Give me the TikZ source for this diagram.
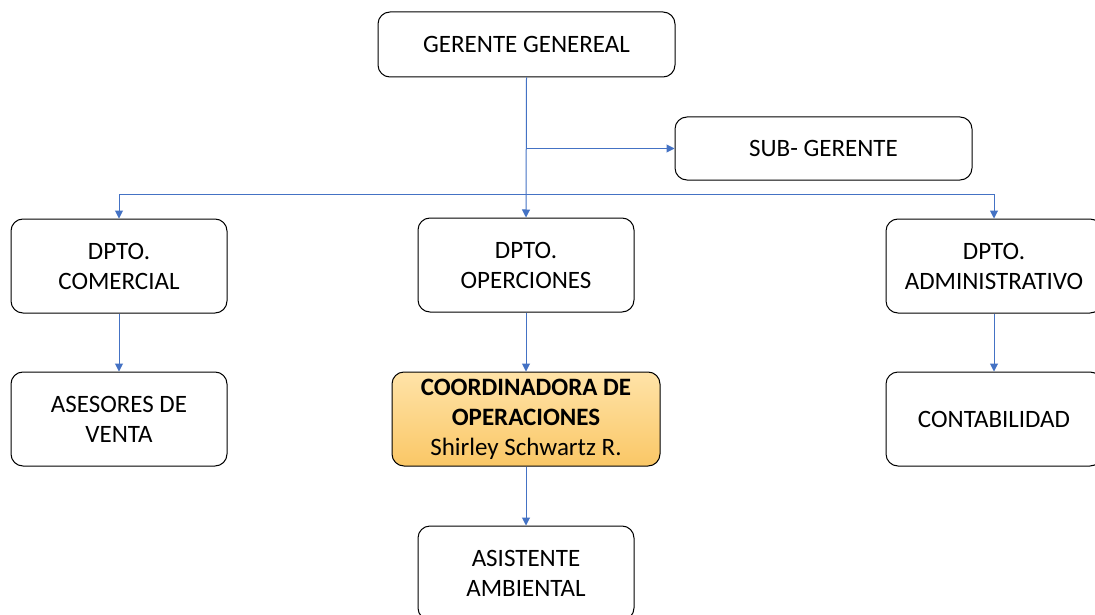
\documentclass[tikz,border=0pt]{standalone}
\usepackage{fontspec}
\setmainfont{Carlito}
\usetikzlibrary{arrows.meta}
\definecolor{lineblue}{HTML}{4472C4}
\definecolor{goldtop}{HTML}{FFE3A8}
\definecolor{goldbot}{HTML}{FAC766}
\tikzset{
  box/.style={draw=black, line width=1pt, rounded corners=12pt, align=center,
    inner sep=0pt, font=\fontsize{25}{30}\selectfont, fill=white},
  link/.style={draw=lineblue, line width=1pt, -{Triangle[length=8pt,width=8pt]}},
  plain/.style={draw=lineblue, line width=1pt},
}
\begin{document}
\begin{tikzpicture}[x=1pt,y=-1pt]
\useasboundingbox (0,0) rectangle (1095,615);
\fill[white] (0,0) rectangle (1095,615);
\node[box, minimum width=297pt, minimum height=65pt] (gg) at (526.5,44.5) {GERENTE GENEREAL};
\node[box, minimum width=297pt, minimum height=63pt] (sg) at (823.5,148.5) {SUB- GERENTE};
\node[box, minimum width=216pt, minimum height=94pt] (dc) at (119,266) {DPTO.\\COMERCIAL};
\node[box, minimum width=216pt, minimum height=94pt] (do) at (526,265) {DPTO.\\OPERCIONES};
\node[box, minimum width=216pt, minimum height=94pt] (da) at (994,266) {DPTO.\\ADMINISTRATIVO};
\node[box, minimum width=216pt, minimum height=94pt] (av) at (119,419) {ASESORES DE\\VENTA};
\node[box, minimum width=268pt, minimum height=94pt, top color=goldtop, bottom color=goldbot] (co) at (526,419)
  {\textbf{COORDINADORA DE}\\\textbf{OPERACIONES}\\Shirley Schwartz R.};
\node[box, minimum width=216pt, minimum height=94pt] (ct) at (994,419) {CONTABILIDAD};
\node[box, minimum width=216pt, minimum height=94pt] (aa) at (526,573) {ASISTENTE\\AMBIENTAL};
\coordinate (j1) at (526,148.5);
\coordinate (jl) at (119,194);
\coordinate (jr) at (994,194);
\draw[link] (gg.south) -- (do.north);
\draw[link] (j1) -- (sg.west);
\draw[plain] (jl) -- (jr);
\draw[link] (jl) -- (dc.north);
\draw[link] (jr) -- (da.north);
\draw[link] (dc.south) -- (av.north);
\draw[link] (do.south) -- (co.north);
\draw[link] (co.south) -- (aa.north);
\draw[link] (da.south) -- (ct.north);
\end{tikzpicture}
\end{document}
